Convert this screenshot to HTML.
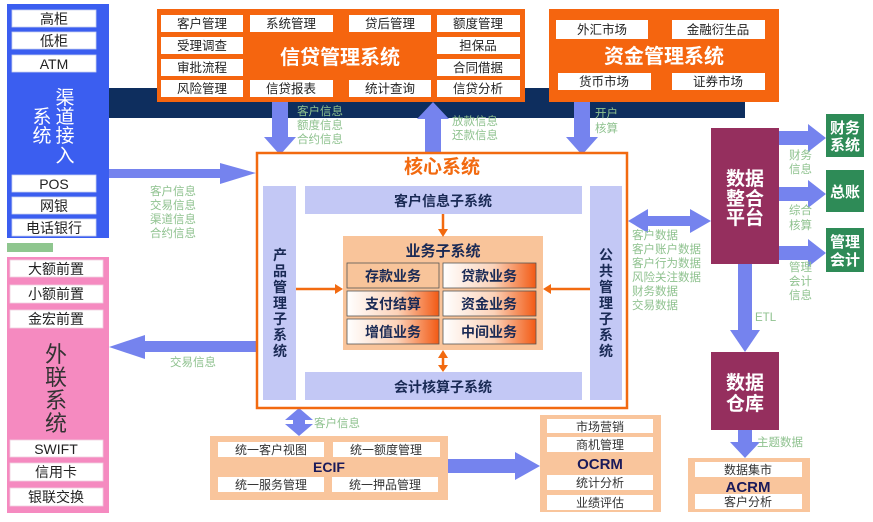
<!DOCTYPE html>
<html><head><meta charset="utf-8"><style>
html,body{margin:0;padding:0;background:#fff;}
svg{display:block;}
text{font-family:"Liberation Sans","Noto Sans CJK SC",sans-serif;}
</style></head><body>
<svg width="873" height="522" viewBox="0 0 873 522" xmlns="http://www.w3.org/2000/svg">
<defs>
<linearGradient id="cg" x1="0" x2="1" y1="0" y2="0"><stop offset="0" stop-color="#fff"/><stop offset="0.55" stop-color="#fbd2b8"/><stop offset="1" stop-color="#f25a14"/></linearGradient>
</defs>
<rect width="873" height="522" fill="#fff"/>
<rect x="109" y="88" width="636" height="30" fill="#0e2e5e"/>

<rect x="7" y="4" width="102" height="234" fill="#3b5ef0"/>
<g fill="#fff" stroke="#c8d0f0" stroke-width="0.8">
<rect x="12" y="10" width="84" height="17"/><rect x="12" y="32" width="84" height="17"/><rect x="12" y="55" width="84" height="17"/>
<rect x="12" y="175" width="84" height="17"/><rect x="12" y="197" width="84" height="17"/><rect x="12" y="219" width="84" height="17"/>
</g>
<g font-size="14" fill="#222" text-anchor="middle">
<text x="54" y="24">高柜</text><text x="54" y="46">低柜</text><text x="54" y="69">ATM</text>
<text x="54" y="189">POS</text><text x="54" y="211">网银</text><text x="54" y="233">电话银行</text>
</g>
<g font-size="19" fill="#fff" text-anchor="middle">
<text x="65" y="104">渠</text><text x="65" y="123">道</text><text x="65" y="142">接</text><text x="65" y="162">入</text>
<text x="42" y="123">系</text><text x="42" y="142">统</text>
</g>
<rect x="7" y="243" width="46" height="9" fill="#8fc68f"/>
<rect x="7" y="257" width="102" height="256" fill="#f58ac0"/>
<g fill="#fff" stroke="#f0d0e0" stroke-width="0.8">
<rect x="10" y="260" width="93" height="17"/><rect x="10" y="285" width="93" height="18"/><rect x="10" y="310" width="93" height="18"/>
<rect x="10" y="440" width="93" height="17"/><rect x="10" y="463" width="93" height="18"/><rect x="10" y="488" width="93" height="18"/>
</g>
<g font-size="14" fill="#222" text-anchor="middle">
<text x="56" y="274">大额前置</text><text x="56" y="299">小额前置</text><text x="56" y="324">金宏前置</text>
<text x="56" y="454">SWIFT</text><text x="56" y="477">信用卡</text><text x="56" y="502">银联交换</text>
</g>
<g font-size="22" fill="#333" text-anchor="middle">
<text x="56" y="362">外</text><text x="56" y="385">联</text><text x="56" y="408">系</text><text x="56" y="431">统</text>
</g>

<rect x="157" y="9" width="368" height="93" fill="#f5650f"/>
<g fill="#fff">
<rect x="161" y="15" width="82" height="17"/><rect x="250" y="15" width="83" height="17"/><rect x="349" y="15" width="82" height="17"/><rect x="437" y="15" width="83" height="17"/>
<rect x="161" y="37" width="82" height="17"/><rect x="437" y="37" width="83" height="17"/>
<rect x="161" y="59" width="82" height="17"/><rect x="437" y="59" width="83" height="17"/>
<rect x="161" y="80" width="82" height="17"/><rect x="250" y="80" width="83" height="17"/><rect x="349" y="80" width="82" height="17"/><rect x="437" y="80" width="83" height="17"/>
</g>
<g font-size="12.5" fill="#222" text-anchor="middle">
<text x="202" y="28">客户管理</text><text x="291" y="28">系统管理</text><text x="390" y="28">贷后管理</text><text x="478" y="28">额度管理</text>
<text x="202" y="50">受理调查</text><text x="478" y="50">担保品</text>
<text x="202" y="72">审批流程</text><text x="478" y="72">合同借据</text>
<text x="202" y="93">风险管理</text><text x="291" y="93">信贷报表</text><text x="390" y="93">统计查询</text><text x="478" y="93">信贷分析</text>
</g>
<text x="340" y="64" font-size="20" font-weight="bold" fill="#fff" text-anchor="middle">信贷管理系统</text>

<rect x="549" y="9" width="230" height="93" fill="#f5650f"/>
<g fill="#fff"><rect x="556" y="20" width="92" height="19"/><rect x="672" y="20" width="93" height="19"/><rect x="558" y="73" width="93" height="17"/><rect x="672" y="73" width="93" height="17"/></g>
<g font-size="12.5" fill="#222" text-anchor="middle">
<text x="602" y="34">外汇市场</text><text x="718" y="34">金融衍生品</text><text x="604" y="86">货币市场</text><text x="718" y="86">证券市场</text>
</g>
<text x="664" y="63" font-size="20" font-weight="bold" fill="#fff" text-anchor="middle">资金管理系统</text>

<g fill="#7583ee">
<polygon points="272,102 288,102 288,137 296,137 280,155 264,137 272,137"/>
<polygon points="433,102 449,119 441,119 441,152 425,152 425,119 417,119"/>
<polygon points="574,102 590,102 590,137 598,137 582,155 566,137 574,137"/>
<polygon points="109,169 220,169 220,163 256,173 220,184 220,178 109,178"/>
<polygon points="109,347 145,335 145,341 256,341 256,352 145,352 145,359"/>
<polygon points="299,408 313,420 305,420 305,424 313,424 299,436 285,424 293,424 293,420 285,420"/>
<polygon points="447,459 515,459 515,452 540,466 515,480 515,473 447,473"/>
<polygon points="628,221 648,209 648,216 690,216 690,209 711,221 690,233 690,226 648,226 648,233"/>
<polygon points="779,131 808,131 808,124 826,138 808,152 808,145 779,145"/>
<polygon points="779,187 808,187 808,180 826,194 808,208 808,201 779,201"/>
<polygon points="779,246 808,246 808,239 826,253 808,267 808,260 779,260"/>
<polygon points="738,264 752,264 752,330 760,330 745,352 730,330 738,330"/>
<polygon points="738,430 752,430 752,442 760,442 745,458 730,442 738,442"/>
</g>

<g font-size="11.5" fill="#8fc28f">
<text x="297" y="115">客户信息</text><text x="297" y="129">额度信息</text><text x="297" y="143">合约信息</text>
<text x="452" y="125">放款信息</text><text x="452" y="139">还款信息</text>
<text x="595" y="117">开户</text><text x="595" y="132">核算</text>
<text x="150" y="195">客户信息</text><text x="150" y="209">交易信息</text><text x="150" y="223">渠道信息</text><text x="150" y="237">合约信息</text>
<text x="170" y="366">交易信息</text>
<text x="314" y="427">客户信息</text>
<text x="632" y="239">客户数据</text><text x="632" y="253">客户账户数据</text><text x="632" y="267">客户行为数据</text><text x="632" y="281">风险关注数据</text><text x="632" y="295">财务数据</text><text x="632" y="309">交易数据</text>
<text x="789" y="159">财务</text><text x="789" y="173">信息</text>
<text x="789" y="214">综合</text><text x="789" y="229">核算</text>
<text x="789" y="271">管理</text><text x="789" y="285">会计</text><text x="789" y="299">信息</text>
<text x="755" y="321">ETL</text>
<text x="757" y="446">主题数据</text>
<text x="449" y="229">客户、额度</text>
<text x="306" y="301">产品</text><text x="306" y="315">定制</text>
<text x="555" y="302">参数</text><text x="555" y="317">控制</text><text x="555" y="332">定价</text>
<text x="458" y="366">账务信息、核算</text>
</g>

<rect x="257" y="153" width="370" height="255" fill="#fff" stroke="#f26a10" stroke-width="2.5"/>
<text x="442" y="173" font-size="19" font-weight="bold" fill="#f26a10" text-anchor="middle">核心系统</text>
<g fill="#c3c8f5">
<rect x="263" y="186" width="33" height="214"/><rect x="590" y="186" width="32" height="214"/>
<rect x="305" y="186" width="277" height="28"/><rect x="305" y="372" width="277" height="28"/>
</g>
<g font-size="14" font-weight="bold" fill="#1a2a55" text-anchor="middle">
<text x="443" y="206">客户信息子系统</text><text x="443" y="392">会计核算子系统</text>
</g>
<g font-size="14" font-weight="bold" fill="#1a2a55" text-anchor="middle">
<text x="280" y="260">产</text><text x="280" y="276">品</text><text x="280" y="292">管</text><text x="280" y="308">理</text><text x="280" y="324">子</text><text x="280" y="340">系</text><text x="280" y="356">统</text>
<text x="606" y="260">公</text><text x="606" y="276">共</text><text x="606" y="292">管</text><text x="606" y="308">理</text><text x="606" y="324">子</text><text x="606" y="340">系</text><text x="606" y="356">统</text>
</g>
<rect x="343" y="236" width="200" height="114" fill="#f9c49a"/>
<text x="443" y="256" font-size="15" font-weight="bold" fill="#1a2a55" text-anchor="middle">业务子系统</text>
<g stroke="#555" stroke-width="0.8">
<rect x="347" y="263" width="92" height="25" fill="#f8c49a"/>
<rect x="443" y="263" width="93" height="25" fill="url(#cg)"/>
<rect x="347" y="291" width="92" height="25" fill="url(#cg)"/>
<rect x="443" y="291" width="93" height="25" fill="url(#cg)"/>
<rect x="347" y="319" width="92" height="25" fill="url(#cg)"/>
<rect x="443" y="319" width="93" height="25" fill="url(#cg)"/>
</g>
<g font-size="14" font-weight="bold" fill="#1a2a55" text-anchor="middle">
<text x="393" y="281">存款业务</text><text x="489" y="281">贷款业务</text>
<text x="393" y="309">支付结算</text><text x="489" y="309">资金业务</text>
<text x="393" y="337">增值业务</text><text x="489" y="337">中间业务</text>
</g>
<g fill="#f26a10" stroke="#f26a10" stroke-width="2.5">
<line x1="443" y1="214" x2="443" y2="230"/><polygon stroke="none" points="438,229 448,229 443,237"/>
<line x1="296" y1="289" x2="336" y2="289"/><polygon stroke="none" points="335,284 335,294 343,289"/>
<line x1="590" y1="289" x2="550" y2="289"/><polygon stroke="none" points="551,284 551,294 543,289"/>
<line x1="443" y1="356" x2="443" y2="366"/><polygon stroke="none" points="438,358 448,358 443,350"/><polygon stroke="none" points="438,365 448,365 443,372"/>
</g>

<rect x="210" y="436" width="238" height="64" fill="#f9c59c"/>
<g fill="#fff"><rect x="218" y="442" width="106" height="15"/><rect x="333" y="442" width="107" height="15"/><rect x="218" y="477" width="106" height="15"/><rect x="332" y="477" width="106" height="15"/></g>
<g font-size="12" fill="#333" text-anchor="middle">
<text x="271" y="454">统一客户视图</text><text x="386" y="454">统一额度管理</text><text x="271" y="489">统一服务管理</text><text x="385" y="489">统一押品管理</text>
</g>
<text x="329" y="472" font-size="14" font-weight="bold" fill="#1a1a5a" text-anchor="middle">ECIF</text>

<rect x="540" y="415" width="121" height="97" fill="#f9c59c"/>
<g fill="#fff"><rect x="547" y="419" width="106" height="14"/><rect x="547" y="437" width="106" height="15"/><rect x="547" y="475" width="106" height="15"/><rect x="547" y="495" width="106" height="15"/></g>
<g font-size="12" fill="#333" text-anchor="middle">
<text x="600" y="431">市场营销</text><text x="600" y="449">商机管理</text><text x="600" y="487">统计分析</text><text x="600" y="507">业绩评估</text>
</g>
<text x="600" y="469" font-size="15" font-weight="bold" fill="#1a1a5a" text-anchor="middle">OCRM</text>

<rect x="711" y="128" width="68" height="136" fill="#952f5e"/>
<rect x="711" y="352" width="68" height="78" fill="#952f5e"/>
<g font-size="19" font-weight="bold" fill="#fff" text-anchor="middle">
<text x="745" y="185">数据</text><text x="745" y="205">整合</text><text x="745" y="224">平台</text>
<text x="745" y="389">数据</text><text x="745" y="410">仓库</text>
</g>

<g fill="#2e8b57"><rect x="826" y="114" width="38" height="43"/><rect x="826" y="170" width="38" height="42"/><rect x="826" y="228" width="38" height="44"/></g>
<g font-size="15" font-weight="bold" fill="#fff" text-anchor="middle">
<text x="845" y="133">财务</text><text x="845" y="150">系统</text>
<text x="845" y="197">总账</text>
<text x="845" y="247">管理</text><text x="845" y="265">会计</text>
</g>

<rect x="688" y="458" width="122" height="54" fill="#f9c59c"/>
<g fill="#fff"><rect x="695" y="462" width="107" height="15"/><rect x="695" y="494" width="107" height="15"/></g>
<g font-size="12" fill="#333" text-anchor="middle"><text x="748" y="474">数据集市</text><text x="748" y="506">客户分析</text></g>
<text x="748" y="492" font-size="15" font-weight="bold" fill="#1a1a5a" text-anchor="middle">ACRM</text>
</svg>
</body></html>
